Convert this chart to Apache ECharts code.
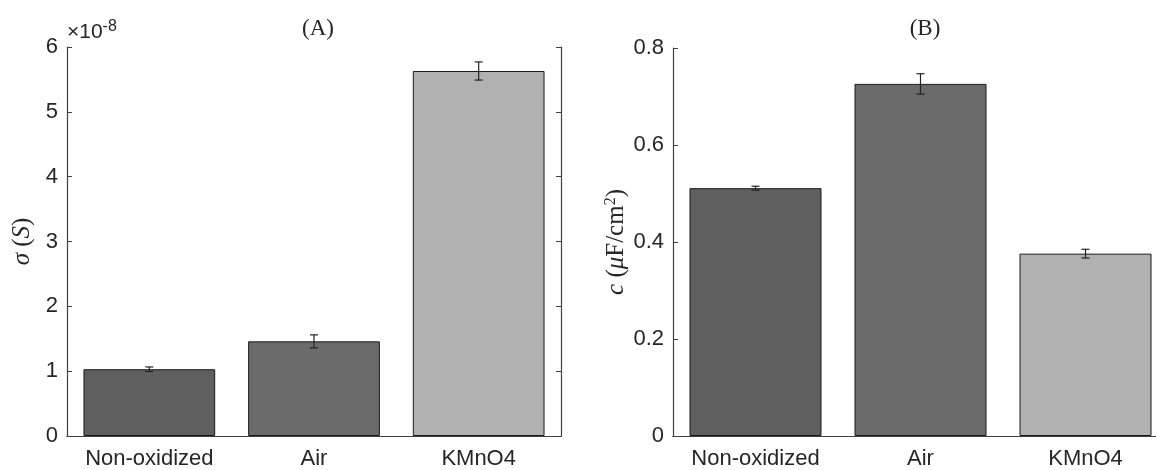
<!DOCTYPE html>
<html>
<head>
<meta charset="utf-8">
<script src="https://cdn.jsdelivr.net/npm/echarts@6/dist/echarts.min.js"></script>
<style>
  html, body { margin: 0; padding: 0; background: #fff; }
  #main { width: 1156px; height: 470px; }
</style>
</head>
<body>
<div id="main"></div>
<script>
// categories shared by both panels
var categories = ['Non-oxidized', 'Air', 'KMnO4'];

// (A) conductance, in units of 1e-8 S
var sigmaMean = [1.03, 1.46, 5.63];
var sigmaErr = [0.035, 0.10, 0.14];
var sigmaTicks = [0, 1, 2, 3, 4, 5, 6];

// (B) capacitance, uF/cm^2
var capMean = [0.511, 0.726, 0.376];
var capErr = [0.004, 0.021, 0.009];
var capTicks = [0, 0.2, 0.4, 0.6, 0.8];

var barColors = ['#5f5f5f', '#6b6b6b', '#b1b1b1'];

var font = 'Liberation Sans, Arial, sans-serif';
var serif = 'Liberation Serif, DejaVu Serif, serif';
var axisCol = '#404040';
var txtCol = '#262626';

var chart = echarts.init(document.getElementById('main'));

function barData(vals) {
  return vals.map(function (v, i) {
    return { value: v, itemStyle: { color: barColors[i] } };
  });
}
function errData(vals, errs) {
  return vals.map(function (v, i) { return [i, v, errs[i]]; });
}
function renderErr(params, api) {
  var i = api.value(0), m = api.value(1), e = api.value(2);
  var hi = api.coord([i, m + e]);
  var lo = api.coord([i, m - e]);
  var w = 4;
  var st = { stroke: '#222', lineWidth: 1.2 };
  return {
    type: 'group',
    children: [
      { type: 'line', shape: { x1: hi[0], y1: hi[1], x2: lo[0], y2: lo[1] }, style: st },
      { type: 'line', shape: { x1: hi[0] - w, y1: hi[1], x2: hi[0] + w, y2: hi[1] }, style: st },
      { type: 'line', shape: { x1: lo[0] - w, y1: lo[1], x2: lo[0] + w, y2: lo[1] }, style: st }
    ]
  };
}

function xAxes(grid) {
  var common = {
    type: 'category', data: categories, gridIndex: grid,
    axisLine: { lineStyle: { color: axisCol, width: 1.2 } },
    axisTick: { inside: true, alignWithLabel: true, length: 5, lineStyle: { color: axisCol } }
  };
  return [
    Object.assign({}, common, {
      position: 'bottom',
      axisLabel: { color: txtCol, fontSize: 22, fontFamily: font, margin: 12, interval: 0, hideOverlap: false }
    }),
    Object.assign({}, common, { position: 'top', axisLabel: { show: false } })
  ];
}
function yAxes(grid, ticks, name, gap, fmt) {
  var common = {
    type: 'value', gridIndex: grid,
    min: ticks[0], max: ticks[ticks.length - 1], interval: ticks[1] - ticks[0],
    splitLine: { show: false },
    axisLine: { show: true, lineStyle: { color: axisCol, width: 1.2 } },
    axisTick: { show: true, inside: true, length: 5, lineStyle: { color: axisCol } }
  };
  return [
    Object.assign({}, common, {
      position: 'left',
      name: name, nameLocation: 'middle', nameRotate: 90, nameGap: gap,
      nameTextStyle: {
        fontFamily: serif, fontSize: 25, color: txtCol,
        rich: {
          i: { fontFamily: serif, fontStyle: 'italic', fontSize: 25, color: txtCol },
          sup: { fontFamily: serif, fontSize: 16, color: txtCol, verticalAlign: 'top', padding: [0, 0, 10, 0] }
        }
      },
      axisLabel: { color: txtCol, fontSize: 22, fontFamily: font, margin: 9, formatter: fmt }
    }),
    Object.assign({}, common, { position: 'right', axisLabel: { show: false } })
  ];
}

var option = {
  animation: false,
  backgroundColor: '#fff',
  grid: [
    { left: 67, top: 47, width: 494, height: 389, outerBoundsMode: 'none' },
    { left: 673, top: 48, width: 495, height: 388, outerBoundsMode: 'none' }
  ],
  title: [
    { text: '(A)', left: 313, top: 12, textAlign: 'center',
      textStyle: { fontFamily: serif, fontWeight: 'normal', fontSize: 23, color: txtCol } },
    { text: '(B)', left: 920, top: 12, textAlign: 'center',
      textStyle: { fontFamily: serif, fontWeight: 'normal', fontSize: 23, color: txtCol } }
  ],
  graphic: [{
    type: 'text', left: 67, top: 19,
    style: {
      text: '×10{s|-8}',
      fontFamily: font, fontSize: 21, fill: txtCol,
      rich: { s: { fontFamily: font, fontSize: 16, fill: txtCol, verticalAlign: 'top', padding: [0, 0, 10, 0] } }
    }
  }],
  xAxis: xAxes(0).concat(xAxes(1)),
  yAxis: yAxes(0, sigmaTicks, '{i|σ} ({i|S})', 32, function (v) { return String(v); })
    .concat(yAxes(1, capTicks, '{i|c} ({i|μ}F/cm{sup|2})', 44, function (v) {
      return v === 0 ? '0' : v.toFixed(1);
    })),
  series: [
    { type: 'bar', xAxisIndex: 0, yAxisIndex: 0, barWidth: '80%', data: barData(sigmaMean),
      itemStyle: { borderColor: '#1a1a1a', borderWidth: 1 } },
    { type: 'custom', xAxisIndex: 0, yAxisIndex: 0, z: 5, renderItem: renderErr,
      data: errData(sigmaMean, sigmaErr) },
    { type: 'bar', xAxisIndex: 2, yAxisIndex: 2, barWidth: '80%', data: barData(capMean),
      itemStyle: { borderColor: '#1a1a1a', borderWidth: 1 } },
    { type: 'custom', xAxisIndex: 2, yAxisIndex: 2, z: 5, renderItem: renderErr,
      data: errData(capMean, capErr) }
  ]
};

chart.setOption(option);
</script>
</body>
</html>
